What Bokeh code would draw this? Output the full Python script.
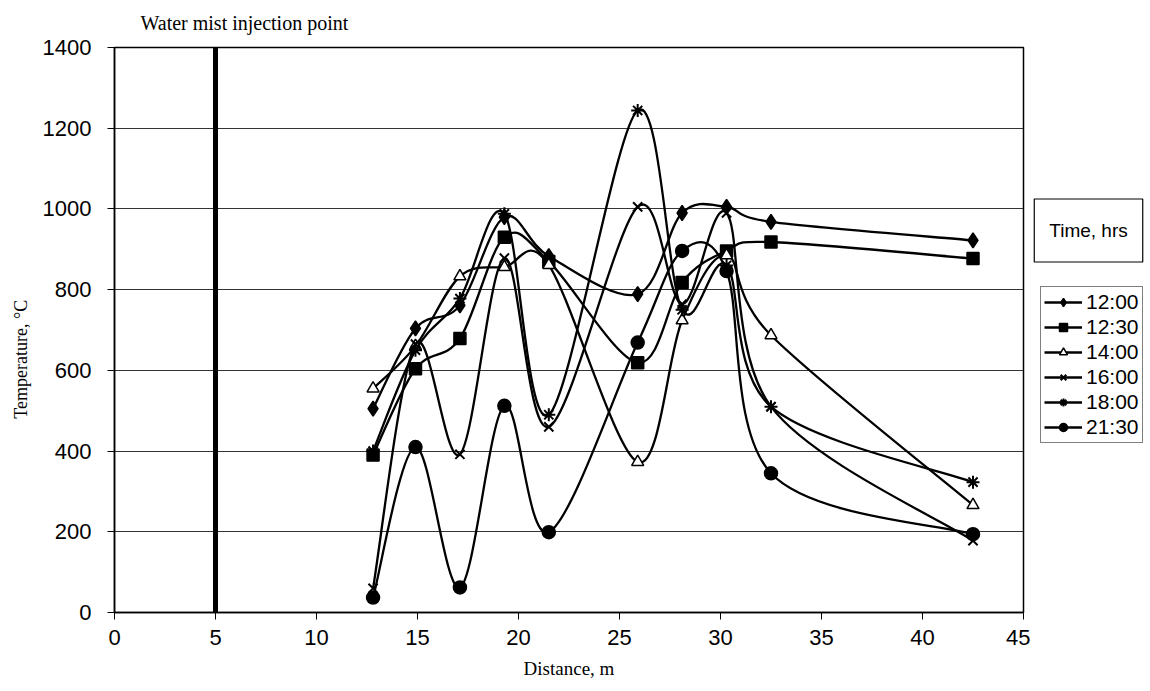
from bokeh.plotting import figure
from bokeh.layouts import row
from bokeh.models import (Range1d, FixedTicker, Span, Label, Legend, LegendItem,
                          ColumnDataSource)
from bokeh.embed import file_html
from bokeh.resources import INLINE

# ---- data ----
distance = [12.8, 14.9, 17.1, 19.3, 21.5, 25.9, 28.1, 30.3, 32.5, 42.5]
t_1200 = [505, 704, 761, 980, 883, 789, 990, 1005, 968, 922]
t_1230 = [390, 604, 679, 930, 870, 619, 818, 896, 918, 877]
t_1400 = [555, 660, 833, 856, 861, 373, 724, 885, 687, 266]
t_1600 = [60, 665, 392, 878, 460, 1005, 764, 990, 510, 178]
t_1800 = [400, 650, 778, 988, 490, 1244, 750, 860, 510, 323]
t_2130 = [37, 410, 62, 512, 199, 669, 896, 846, 345, 194]
series_names = ["12:00", "12:30", "14:00", "16:00", "18:00", "21:30"]
series_values = [t_1200, t_1230, t_1400, t_1600, t_1800, t_2130]
markers = ["diamond", "square", "triangle", "x", "asterisk", "circle"]
marker_sizes = [15, 12, 12, 13, 13, 13]
marker_fill = ["black", "black", "white", "black", "black", "black"]
x_ticks = [0, 5, 10, 15, 20, 25, 30, 35, 40, 45]
y_ticks = [0, 200, 400, 600, 800, 1000, 1200, 1400]
injection_x = 5

W, H = 1150, 691
FL, FR, FT, FB = 114, 1023, 47, 612
MAIN_W = 1030
LEG_W = W - MAIN_W

p = figure(width=MAIN_W, height=H, output_backend="svg", toolbar_location=None,
           x_range=Range1d(0, 45), y_range=Range1d(0, 1400),
           min_border_left=FL, min_border_right=MAIN_W - FR,
           min_border_top=FT, min_border_bottom=H - FB)
p.background_fill_color = "white"
p.border_fill_color = "white"
p.outline_line_color = "black"
p.outline_line_width = 1.5

p.title.text = "Water mist injection point"
p.title.text_font = "Liberation Serif"
p.title.text_font_size = "20px"
p.title.text_font_style = "normal"
p.title.text_color = "black"
p.title.align = "left"
p.title.offset = 26
p.title.standoff = 23
p.title.vertical_align = "top"

p.xgrid.visible = False
p.ygrid.grid_line_color = "#333333"
p.ygrid.grid_line_width = 1
p.ygrid.ticker = FixedTicker(ticks=y_ticks)

for ax in (p.xaxis[0], p.yaxis[0]):
    ax.axis_line_color = "black"
    ax.axis_line_width = 1.5
    ax.major_tick_line_color = "black"
    ax.major_tick_out = 7
    ax.major_tick_in = 0
    ax.minor_tick_line_color = None
    ax.major_label_text_font = "Liberation Sans"
    ax.major_label_text_font_size = "22px"
    ax.major_label_text_color = "black"
    ax.axis_label_text_font = "Liberation Serif"
    ax.axis_label_text_font_size = "19px"
    ax.axis_label_text_font_style = "normal"
    ax.axis_label_text_color = "black"

p.xaxis.ticker = FixedTicker(ticks=x_ticks)
p.yaxis.ticker = FixedTicker(ticks=y_ticks)
p.xaxis.major_label_standoff = 10
p.yaxis.major_label_standoff = 16
p.xaxis.axis_label = "Distance, m"
p.xaxis.axis_label_standoff = 10
p.yaxis.axis_label = "Temperature, \u00b0C" + "\u00a0" * 13
p.yaxis.axis_label_text_font_size = "18px"
p.yaxis.axis_label_standoff = 9

# injection line
p.add_layout(Span(location=injection_x, dimension="height",
                  line_color="black", line_width=5))


def smooth_segments(xs, ys):
    n = len(xs)
    out = dict(x0=[], y0=[], x1=[], y1=[], cx0=[], cy0=[], cx1=[], cy1=[])
    for i in range(n - 1):
        im1 = max(i - 1, 0)
        ip2 = min(i + 2, n - 1)
        out["x0"].append(xs[i]); out["y0"].append(ys[i])
        out["x1"].append(xs[i + 1]); out["y1"].append(ys[i + 1])
        out["cx0"].append(xs[i] + (xs[i + 1] - xs[im1]) / 6.0)
        out["cy0"].append(ys[i] + (ys[i + 1] - ys[im1]) / 6.0)
        out["cx1"].append(xs[i + 1] - (xs[ip2] - xs[i]) / 6.0)
        out["cy1"].append(ys[i + 1] - (ys[ip2] - ys[i]) / 6.0)
    return out


# legend panel (separate figure so nothing is clipped); frame aligned with main
lg = figure(width=LEG_W, height=H, output_backend="svg", toolbar_location=None,
            x_range=Range1d(0, 1), y_range=Range1d(0, 1),
            min_border_left=0, min_border_right=0, min_border_top=FT,
            min_border_bottom=H - FB)
lg.axis.visible = False
lg.grid.visible = False
lg.outline_line_color = None
lg.background_fill_color = "white"
lg.border_fill_color = "white"

items = []
for name, vals, mk, ms, mf in zip(series_names, series_values, markers,
                                  marker_sizes, marker_fill):
    lw = 2 if mk in ("x", "asterisk") else 1.5
    seg = ColumnDataSource(smooth_segments(distance, vals))
    p.bezier(x0="x0", y0="y0", x1="x1", y1="y1", cx0="cx0", cy0="cy0",
             cx1="cx1", cy1="cy1", source=seg, line_color="black",
             line_width=2.3)
    p.scatter(distance, vals, marker=mk, size=ms, fill_color=mf,
              line_color="black", line_width=lw)
    # proxy renderers for the legend (kept out of view)
    rl = lg.line([-5, -4], [-5, -4], line_color="black", line_width=2.3)
    rs = lg.scatter([-5], [-5], marker=mk, size=ms - 1, fill_color=mf,
                    line_color="black", line_width=lw)
    items.append(LegendItem(label=name, renderers=[rl, rs]))

legend = Legend(items=items, location=(1040 - MAIN_W, FB - 443),
                label_text_font="Liberation Sans", label_text_font_size="21px",
                label_text_color="black", glyph_width=38, glyph_height=20,
                label_standoff=4, spacing=1, padding=3, margin=0,
                border_line_color="black", border_line_width=1,
                background_fill_color="white", background_fill_alpha=1.0,
                label_height=20)
lg.add_layout(legend, "center")

lg.add_layout(Label(x=1088 - MAIN_W, y=FB - 230, x_units="screen", y_units="screen",
                    text="Time, hrs", text_font="Liberation Sans",
                    text_font_size="19px", text_color="black",
                    text_align="center", text_baseline="middle",
                    border_line_color="black", border_line_width=1.2,
                    background_fill_color="white", padding=(15, 21)))

layout = row(p, lg, spacing=0)
open("out.html", "w").write(file_html(layout, INLINE))
